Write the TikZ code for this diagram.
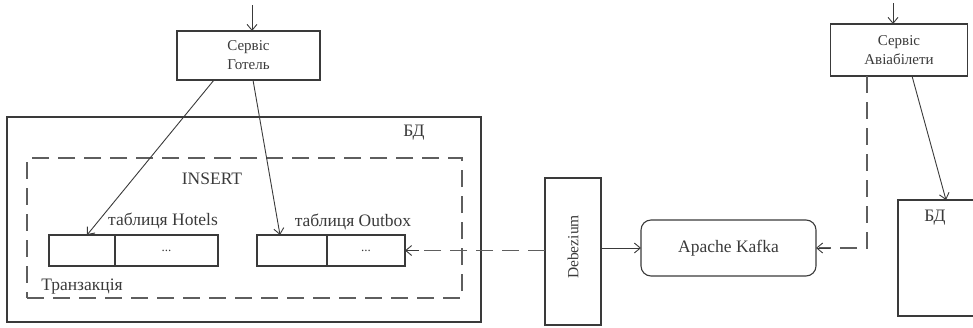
\documentclass[tikz,border=0pt]{standalone}
\usepackage{fontspec}
\setmainfont{Liberation Serif}
\usetikzlibrary{arrows.meta}
\definecolor{outboxInk}{HTML}{3A3A3A}
\definecolor{outboxGray}{HTML}{5E5E5E}
\tikzset{
  outbox diagram/.style={
    draw=outboxInk, line width=0.9pt,
    >={Straight Barb[length=6pt,width=10pt]},
    every node/.style={font=\fontsize{17.5}{20}\selectfont,
      text=outboxInk, inner sep=0pt, outer sep=0pt},
    x=1pt, y=-1pt
  },
  outbox box/.style={draw=outboxInk, line width=1.1pt, align=center},
  outbox cell/.style={outbox box, minimum height=31pt},
  outbox dash/.style={draw=outboxGray, line width=1.4pt, dash pattern=on 17pt off 9pt}
}

\begin{document}
\begin{tikzpicture}[outbox diagram]
    \useasboundingbox (0,0) rectangle (973,327);
    \clip (0,0) rectangle (973,327);
    % hotel service and its database
    \node[outbox box,minimum width=143pt,minimum height=49pt,
      font=\fontsize{15}{19}\selectfont] (svcHotel) at (248.5,55.5) {Сервіс\\Готель};
    \node[outbox box,minimum width=474pt,minimum height=205pt] (dbHotel) at (244,219.5) {};
    \node (dbHotelLbl) at (414,133) {БД};
    \node[draw=outboxGray,line width=1.4pt,dash pattern=on 17pt off 9pt,
      minimum width=435pt,minimum height=140pt] (trans) at (244.5,228) {};
    \node (insertLbl) at (212,179) {INSERT};
    \node (transLbl) at (82,287) {Транзакція};
    % tables
    \node[outbox cell,minimum width=66pt] (hotKey) at (82,250.5) {};
    \node[outbox cell,minimum width=103pt,font=\fontsize{13}{14}\selectfont] (hotRest) at (166.5,250.5) {...};
    \node (hotLbl) at (163,221) {таблиця Hotels};
    \node[outbox cell,minimum width=70pt] (outKey) at (292,250.5) {};
    \node[outbox cell,minimum width=78pt,font=\fontsize{13}{14}\selectfont] (outRest) at (366,250.5) {...};
    \node (outLbl) at (353,222) {таблиця Outbox};
    % relay
    \node[outbox box,minimum width=56pt,minimum height=147pt] (debez) at (573,251.5) {};
    \node[rotate=90,font=\fontsize{15.5}{18}\selectfont] (debezLbl) at (573,247) {Debezium};
    \node[outbox box,rounded corners=10pt,minimum width=175pt,minimum height=56pt] (kafka) at (728.5,248) {Apache Kafka};
    % tickets service
    \node[outbox box,minimum width=137pt,minimum height=52pt,
      font=\fontsize{15}{19}\selectfont] (svcAir) at (899,50) {Сервіс\\Авіабілети};
    \node[outbox box,minimum width=100pt,minimum height=116pt] (dbAir) at (948,258) {};
    \node (dbAirLbl) at (935,218) {БД};
    \coordinate (inHotel) at (252,5);
    \coordinate (inAir) at (893,3);

    \draw[->] (inHotel) -- (inHotel |- svcHotel.north);
    \draw[->] (inAir) -- (inAir |- svcAir.north);
    \draw[->] ([xshift=-34.5pt]svcHotel.south) -- ([xshift=5pt]hotKey.north);
    \draw[->] ([xshift=4.5pt]svcHotel.south) -- ([xshift=-12pt]outKey.north);
    \draw[outbox dash] (debez.west |- outRest.east) -- ([xshift=3pt]outRest.east);
    \draw[->] ([xshift=14pt]outRest.east) -- (outRest.east);
    \draw[->] (debez.east |- kafka.west) -- (kafka.west);
    \draw[outbox dash] ([xshift=-32pt]svcAir.south) |- ([xshift=3pt]kafka.east);
    \draw[->] ([xshift=14pt]kafka.east) -- (kafka.east);
    \draw[->] ([xshift=13pt]svcAir.south) -- ([xshift=-2pt]dbAir.north);
\end{tikzpicture}
\end{document}
